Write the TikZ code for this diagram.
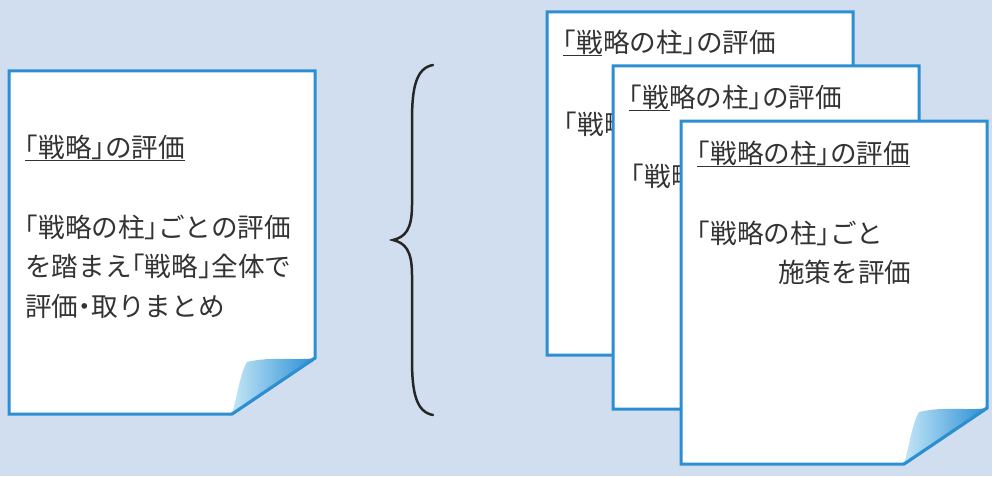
\documentclass[tikz,border=0pt]{standalone}
\usepackage{fontspec}
\newfontfamily\jpfont[CharacterWidth=AlternateHalf]{Noto Sans CJK JP}
\definecolor{bgblue}{HTML}{D1DEF0}
\definecolor{pageblue}{HTML}{2B8FD2}
\definecolor{textgray}{HTML}{333333}
\definecolor{curllight}{HTML}{C4E6F7}
\definecolor{curlmid}{HTML}{5EC2EC}
\definecolor{curldark}{HTML}{2A8ED4}

\tikzset{
    pageline/.style={draw=pageblue, line width=3pt, line join=miter},
    curl/.style={left color=curllight, middle color=curlmid, right color=curldark},
    % one sheet of paper, (0,0) is its top left corner
    page/.pic={
        \draw[pageline, fill=white] (0,0) -- (306,0) -- (306,287) -- (223,343) -- (0,343) -- cycle;
        \shade[curl] (223,343) .. controls (228,325) and (232,300) .. (238,291)
            .. controls (262,285) and (290,290) .. (306,287) -- cycle;
        \draw[pageline] (306,287) -- (223,343);
    }
}

\begin{document}
\begin{tikzpicture}[
        x=1pt, y=-1pt,
        txt/.style={anchor=base west, inner sep=0pt, text=textgray,
            font=\jpfont\fontsize{26.6}{30}\selectfont},
        uline/.style={draw=textgray, line width=1pt},
        brace/.style={draw=black!85, line width=2.5pt, line cap=round}
    ]

    % background
    \fill[bgblue] (0,0) rectangle (992,476);
    \useasboundingbox (0,0) rectangle (992,476);

    % Left sheet
    \pic (L) at (9,71) {page};
    \node[txt] (Ltitle) at (25,157) {「戦略」の評価};
    \draw[uline] ([yshift=-3pt]Ltitle.base west) -- ([yshift=-3pt]Ltitle.base east);
    \foreach \txt [count=\i] in {「戦略の柱」ごとの評価, を踏まえ「戦略」全体で, 評価・取りまとめ}
        \node[txt] (Lbody\i) at (25, 197.5+\i*39.5) {\txt};

    % Brace
    \draw[brace] (433,65) .. controls (416,68) and (412,88) .. (412,120) -- (412,205)
        .. controls (412,230) and (405,237) .. (393,240)
        .. controls (405,243) and (412,250) .. (412,275) -- (412,360)
        .. controls (412,392) and (416,412) .. (433,415);

    % Sheet A (back)
    \pic (A) at (547,12) {page};
    \node[txt] (Atitle) at (563,53) {「戦略の柱」の評価};
    \draw[uline] ([yshift=-3pt]Atitle.base west) -- ([yshift=-3pt, xshift=39pt]Atitle.base west);
    \node[txt] (Abody) at (564,134) {「戦略の柱」ごと};

    % Sheet B (middle)
    \pic (B) at (613,66) {page};
    \node[txt] (Btitle) at (629,108) {「戦略の柱」の評価};
    \draw[uline] ([yshift=-3pt]Btitle.base west) -- ([yshift=-3pt, xshift=41pt]Btitle.base west);
    \node[txt] (Bbody) at (631,186) {「戦略の柱」ごと};

    % Sheet C (front)
    \pic (C) at (681,121) {page};
    \node[txt] (Ctitle) at (697,163) {「戦略の柱」の評価};
    \draw[uline] ([yshift=-3pt]Ctitle.base west) -- ([yshift=-3pt]Ctitle.base east);
    \node[txt] (Cbody1) at (697,243) {「戦略の柱」ごと};
    \node[txt] (Cbody2) at (778,282) {施策を評価};

\end{tikzpicture}
\end{document}
